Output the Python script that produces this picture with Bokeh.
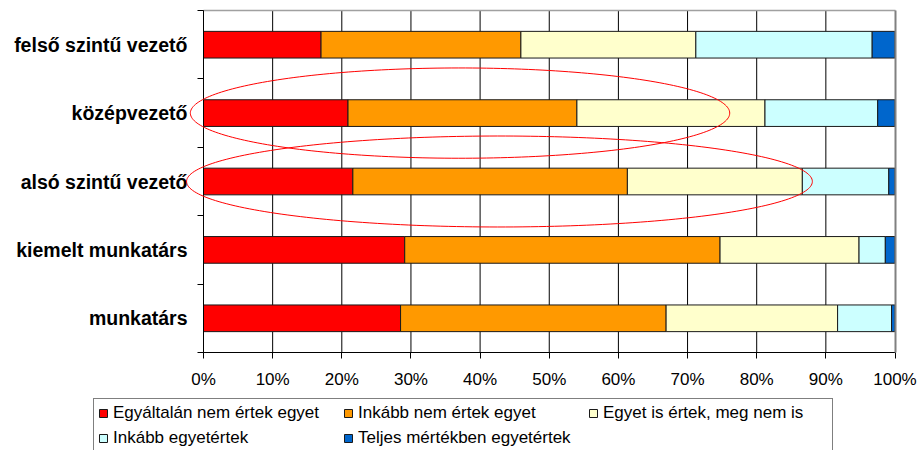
import numpy as np
from bokeh.plotting import figure
from bokeh.models import (Legend, LegendItem, FixedTicker, PrintfTickFormatter,
                          PolyAnnotation, Range1d, ColumnDataSource, LinearAxis)
from bokeh.embed import file_html
from bokeh.resources import INLINE

# ---- data (percent of respondents) ----
categories = ["munkatárs", "kiemelt munkatárs", "alsó szintű vezető",
              "középvezető", "felső szintű vezető"]
series = ["Egyáltalán nem értek egyet", "Inkább nem értek egyet",
          "Egyet is értek, meg nem is", "Inkább egyetértek",
          "Teljes mértékben egyetértek"]
egyaltalan_nem = [28.5, 29.1, 21.6, 20.9, 17.0]
inkabb_nem = [38.4, 45.6, 39.7, 33.1, 28.9]
egyet_is = [24.8, 20.1, 25.3, 27.2, 25.3]
inkabb_egyet = [7.8, 3.8, 12.5, 16.3, 25.5]
teljes = [0.5, 1.4, 0.9, 2.5, 3.3]
x_ticks = [0, 10, 20, 30, 40, 50, 60, 70, 80, 90, 100]

colors = ["#FF0000", "#FF9900", "#FFFFCC", "#CCFFFF", "#0066CC"]

# highlighted categories (red ellipses drawn on the original)
highlight_cats = ["középvezető", "alsó szintű vezető"]
highlight_cx = [37.1, 42.8]
highlight_w = [78.0, 90.5]
highlight_h = [1.32, 1.33]

# ---- layout (pixels) ----
W, H = 917, 450
PL, PR, PT, PB = 203, 894.5, 10, 352   # plot-area edges
NCAT = len(categories)
XMAX = x_ticks[-1]
sx = (PR - PL) / XMAX
sy = (PB - PT) / NCAT

keys = ["s0", "s1", "s2", "s3", "s4"]
ypos = [i + 0.5 for i in range(NCAT)]
bounds = list(range(NCAT + 1))
source = ColumnDataSource(dict(y=ypos, s0=egyaltalan_nem, s1=inkabb_nem,
                               s2=egyet_is, s3=inkabb_egyet, s4=teljes))

# the frame covers the whole canvas; axes are pinned with fixed_location
p = figure(width=W, height=H, output_backend="svg", toolbar_location=None,
           x_axis_type=None, y_axis_type=None,
           x_range=Range1d(-PL / sx, XMAX + (W - PR) / sx),
           y_range=Range1d(-(H - PB) / sy, NCAT + PT / sy),
           min_border=0, outline_line_color=None)
p.background_fill_color = "white"
p.border_fill_color = "white"

# vertical gridlines (below the bars)
p.segment(x0=x_ticks[:-1], x1=x_ticks[:-1], y0=[0] * (len(x_ticks) - 1),
          y1=[NCAT] * (len(x_ticks) - 1), line_color="black", line_width=1)

renderers = p.hbar_stack(keys, y="y", height=0.39, source=source,
                         fill_color=colors, line_color="#1a1a1a", line_width=1)

# x axis
xaxis = LinearAxis(fixed_location=0, bounds=(0, XMAX),
                   ticker=FixedTicker(ticks=x_ticks),
                   formatter=PrintfTickFormatter(format="%d%%"),
                   major_tick_out=6, major_tick_in=0, minor_tick_line_color=None,
                   major_label_standoff=11, major_label_text_font="Liberation Sans",
                   major_label_text_font_size="17px", major_label_text_color="black",
                   axis_line_color="black", major_tick_line_color="black")
p.add_layout(xaxis, "below")

# y axis: line at 0 %, ticks between categories, labels at category centres
yaxis = LinearAxis(fixed_location=0, bounds=(0, NCAT),
                   ticker=FixedTicker(ticks=ypos, minor_ticks=bounds),
                   major_label_overrides={y: c for y, c in zip(ypos, categories)},
                   major_tick_line_color=None, major_tick_out=0, major_tick_in=0,
                   minor_tick_line_color="black", minor_tick_out=6, minor_tick_in=0,
                   major_label_standoff=10, major_label_text_font="Liberation Sans",
                   major_label_text_font_style="bold",
                   major_label_text_font_size="19.5px",
                   major_label_text_color="black", axis_line_color="black")
p.add_layout(yaxis, "left")

# plot-area border (top and right)
top_border = LinearAxis(fixed_location=NCAT, bounds=(0, XMAX), ticker=FixedTicker(ticks=[]),
                        axis_line_color="#a0a0a0", axis_line_width=1.5,
                        major_tick_line_color=None, minor_tick_line_color=None,
                        major_label_text_font_size="0px")
p.add_layout(top_border, "above")
right_border = LinearAxis(fixed_location=XMAX, bounds=(0, NCAT), ticker=FixedTicker(ticks=[]),
                          axis_line_color="#808080", axis_line_width=2,
                          major_tick_line_color=None, minor_tick_line_color=None,
                          major_label_text_font_size="0px")
p.add_layout(right_border, "right")

# red ellipses
t = np.linspace(0, 2 * np.pi, 240)
for cat, cx, w, h in zip(highlight_cats, highlight_cx, highlight_w, highlight_h):
    cy = ypos[categories.index(cat)]
    p.add_layout(PolyAnnotation(xs=list(cx + w / 2 * np.cos(t)),
                                ys=list(cy + h / 2 * np.sin(t)),
                                fill_color=None, fill_alpha=0,
                                line_color="#FF0000", line_alpha=1, line_width=1))

# legend (bottom border cut by the canvas edge, as in the original)
items = [LegendItem(label=s, renderers=[r]) for s, r in zip(series, renderers)]
legend = Legend(items=items, orientation="horizontal", ncols=3,
                location=(93, -3),
                glyph_width=10, glyph_height=10, label_standoff=5,
                label_width=225, label_height=18, spacing=5, padding=4, margin=0,
                label_text_font="Liberation Sans", label_text_font_size="17px",
                label_text_color="black",
                border_line_color="black", border_line_width=1,
                background_fill_color="white", background_fill_alpha=1)
p.add_layout(legend)

open("out.html", "w").write(file_html(p, INLINE))
